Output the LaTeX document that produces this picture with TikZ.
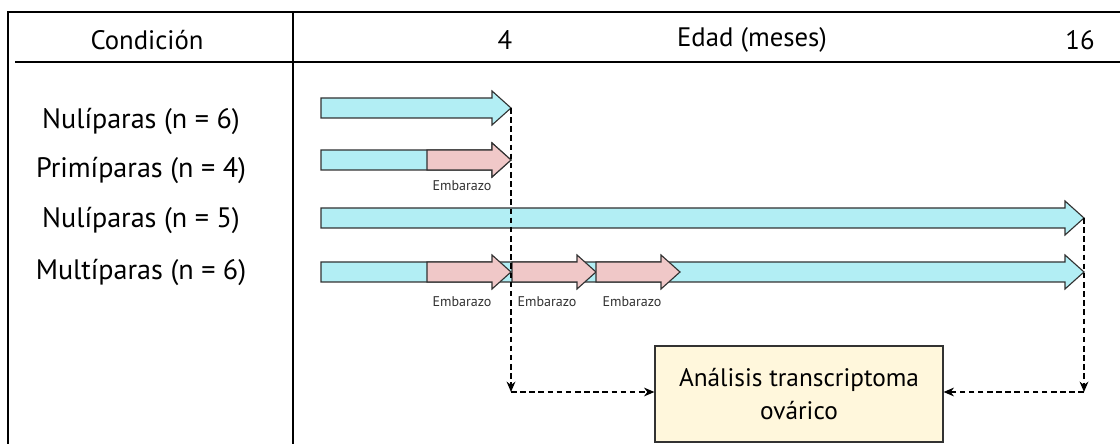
\documentclass[tikz,border=0pt]{standalone}
\usepackage{fontspec}
\setmainfont{PT Sans}
\usepackage{tikz}
\usetikzlibrary{arrows.meta,positioning,calc}
\definecolor{basecolor}{RGB}{178,238,244}
\definecolor{pregcolor}{RGB}{240,200,200}
\definecolor{boxcolor}{RGB}{255,247,220}
\definecolor{edgecolor}{RGB}{50,50,50}
\tikzset{
  frameln/.style={line width=1.4pt, black},
  headtxt/.style={font=\fontsize{19}{22}\selectfont},
  rowtxt/.style={font=\fontsize{20}{23}\selectfont},
  pregtxt/.style={font=\fontsize{10}{11}\selectfont, edgecolor},
  linkln/.style={-{Stealth[length=2.6mm,width=2.2mm]}, dash pattern=on 4pt off 2.5pt, line width=0.9pt},
  resbox/.style={draw=edgecolor, line width=0.8pt, fill=boxcolor, minimum width=7.2cm, minimum height=2.4cm,
    align=center, font=\fontsize{18}{23}\selectfont},
}
% block arrow: fill, start x, tip x, mid y
\newcommand{\barrow}[4]{%
  \filldraw[fill=#1, draw=edgecolor, line width=0.8pt, line join=miter]
    (#2,#4-10) -- (#3-19,#4-10) -- (#3-19,#4-17) -- (#3,#4) -- (#3-19,#4+17)
    -- (#3-19,#4+10) -- (#2,#4+10) -- cycle;
}
\begin{document}
\begin{tikzpicture}[x=0.025cm, y=-0.025cm]
    \useasboundingbox (0,0) rectangle (1120,444);
    % table lines
    \draw[frameln] (8,444) -- (8,12) -- (1120,12);
    \draw[frameln] (15,62) -- (1120,62);
    \draw[frameln] (293,12) -- (293,444);
    % header
    \node[headtxt] (hcond) at (147,40) {Condición};
    \node[headtxt] (hfour) at (505,40) {4};
    \node[headtxt] (hage) at (752,40) {Edad (meses)};
    \node[headtxt] (hsixteen) at (1080,40) {16};
    % groups
    \node[rowtxt] (nul1) at (141,121) {Nulíparas (n = 6)};
    \node[rowtxt] (pri) at (141,170) {Primíparas (n = 4)};
    \node[rowtxt] (nul2) at (141,220) {Nulíparas (n = 5)};
    \node[rowtxt] (mul) at (141,272) {Multíparas (n = 6)};
    % timelines
    \barrow{basecolor}{321}{511}{108}
    \barrow{basecolor}{321}{511}{160}
    \barrow{pregcolor}{427}{511}{160}
    \barrow{basecolor}{321}{1084}{218}
    \barrow{basecolor}{321}{1084}{272}
    \barrow{pregcolor}{427}{511}{272}
    \barrow{pregcolor}{512}{596}{272}
    \barrow{pregcolor}{596}{680}{272}
    % pregnancies
    \node[pregtxt] (emb1) at (462,186) {Embarazo};
    \node[pregtxt] (emb2) at (462,302) {Embarazo};
    \node[pregtxt] (emb3) at (547,302) {Embarazo};
    \node[pregtxt] (emb4) at (632,302) {Embarazo};
    % analysis
    \node[resbox] (ana) at (799,394) {Análisis transcriptoma\\ovárico};
    \coordinate (tipA) at (511,108);
    \coordinate (tipB) at (1084,218);
    \coordinate (cornA) at (511,392);
    \coordinate (cornB) at (1084,392);
    \draw[linkln] (tipA) -- (cornA);
    \draw[linkln] (tipB) -- (cornB);
    \draw[linkln] (cornA) -- (cornA -| ana.west);
    \draw[linkln] (cornB) -- (cornB -| ana.east);
  \end{tikzpicture}
\end{document}
